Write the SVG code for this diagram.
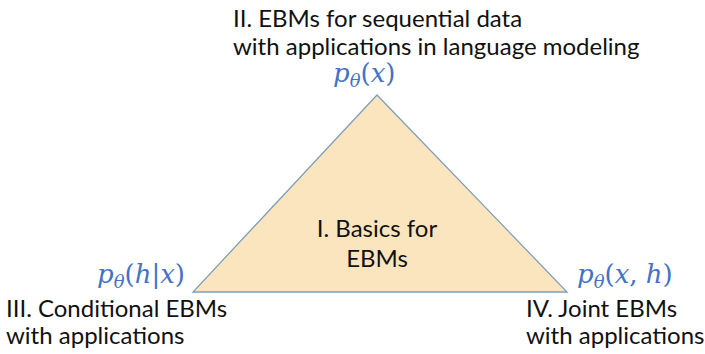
<svg xmlns="http://www.w3.org/2000/svg" width="705" height="354" viewBox="0 0 705 354">
<style>
.t{font-family:Lato,"Open Sans","Liberation Sans",sans-serif;font-size:24px;fill:#111}
.m{font-family:"DejaVu Serif","Liberation Serif",serif;font-size:26px;fill:#4472C4}
.i{font-style:italic}
.s{font-size:18px;font-style:italic}
</style>
<rect width="705" height="354" fill="#fff"/>
<g id="triangle">
<polygon points="377,95 193,292 567,292" fill="#FBE5BF" stroke="#7F9EBB" stroke-width="1.3"/>
<text class="t" x="377" y="237" text-anchor="middle">I. Basics for</text>
<text class="t" x="377" y="267" text-anchor="middle">EBMs</text>
</g>
<g id="top">
<text class="t" x="233" y="27">II. EBMs for sequential data</text>
<text class="t" x="233" y="55">with applications in language modeling</text>
<text class="m" x="333" y="82"><tspan class="i">p</tspan><tspan class="s" dy="5">θ</tspan><tspan dy="-5">(</tspan><tspan class="i">x</tspan><tspan>)</tspan></text>
</g>
<g id="left">
<text class="m" x="97" y="283"><tspan class="i">p</tspan><tspan class="s" dy="5">θ</tspan><tspan dy="-5">(</tspan><tspan class="i">h</tspan><tspan>|</tspan><tspan class="i">x</tspan><tspan>)</tspan></text>
<text class="t" x="6" y="317">III. Conditional EBMs</text>
<text class="t" x="6" y="344">with applications</text>
</g>
<g id="right">
<text class="m" x="577" y="283"><tspan class="i">p</tspan><tspan class="s" dy="5">θ</tspan><tspan dy="-5">(</tspan><tspan class="i">x</tspan><tspan>, </tspan><tspan class="i">h</tspan><tspan>)</tspan></text>
<text class="t" x="526" y="317">IV. Joint EBMs</text>
<text class="t" x="526" y="344">with applications</text>
</g>
<g id="connectors"></g>
</svg>
